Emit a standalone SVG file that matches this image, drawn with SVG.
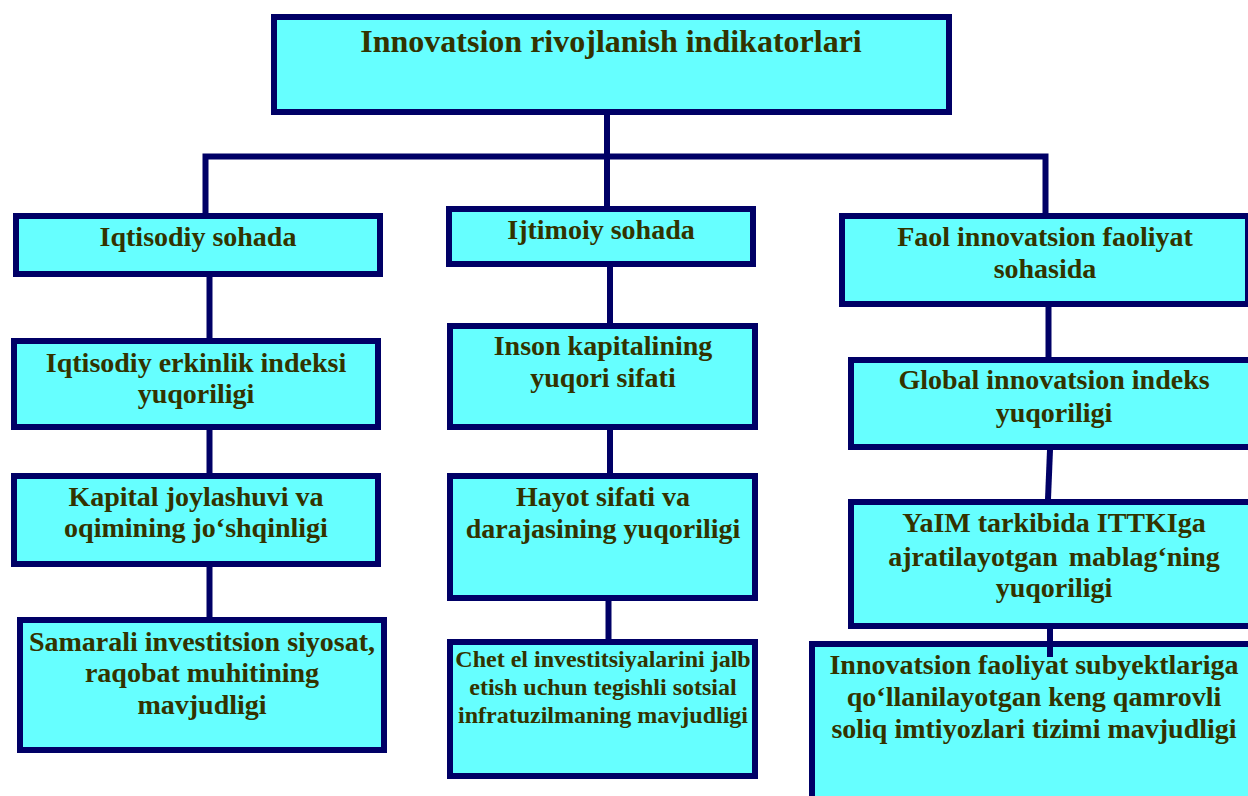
<svg xmlns="http://www.w3.org/2000/svg" width="1248" height="796" viewBox="0 0 1248 796">
<style>
.box{fill:#66FFFF;stroke:#000066;stroke-width:6}
.t{font-family:"Liberation Serif","Times New Roman",serif;font-weight:bold;font-size:28px;fill:#333300;text-anchor:middle}
.s{font-size:24px}
.title{font-size:32px}
.c{fill:none;stroke:#000066;stroke-width:6;stroke-linejoin:miter;stroke-linecap:butt}
</style>
<rect width="1248" height="796" fill="#ffffff"/>
<g id="root">
<rect class="box" x="274" y="17" width="675" height="95"/>
<text class="t title" x="611" y="52">Innovatsion rivojlanish indikatorlari</text>
</g>
<g id="iqtisodiy">
<rect class="box" x="16" y="216" width="364" height="58"/>
<text class="t" x="198" y="246">Iqtisodiy sohada</text>
</g>
<g id="erkinlik">
<rect class="box" x="14" y="341" width="364" height="86"/>
<text class="t" x="196" y="372">Iqtisodiy erkinlik indeksi</text>
<text class="t" x="196" y="403">yuqoriligi</text>
</g>
<g id="kapital">
<rect class="box" x="14" y="476" width="364" height="88"/>
<text class="t" x="196" y="506">Kapital joylashuvi va</text>
<text class="t" x="196" y="537">oqimining jo‘shqinligi</text>
</g>
<g id="samarali">
<rect class="box" x="20" y="620" width="364" height="130"/>
<text class="t" x="202" y="651">Samarali investitsion siyosat,</text>
<text class="t" x="202" y="682">raqobat muhitining</text>
<text class="t" x="202" y="714">mavjudligi</text>
</g>
<g id="ijtimoiy">
<rect class="box" x="449" y="209" width="304" height="55"/>
<text class="t" x="601" y="239">Ijtimoiy sohada</text>
</g>
<g id="inson">
<rect class="box" x="450" y="326" width="305" height="101"/>
<text class="t" x="603" y="355">Inson kapitalining</text>
<text class="t" x="603" y="387">yuqori sifati</text>
</g>
<g id="hayot">
<rect class="box" x="450" y="476" width="305" height="122"/>
<text class="t" x="603" y="506">Hayot sifati va</text>
<text class="t" x="603" y="538">darajasining yuqoriligi</text>
</g>
<g id="chetel">
<rect class="box" x="450" y="642" width="305" height="134"/>
<text class="t s" x="603" y="667">Chet el investitsiyalarini jalb</text>
<text class="t s" x="603" y="695">etish uchun tegishli sotsial</text>
<text class="t s" x="603" y="723">infratuzilmaning mavjudligi</text>
</g>
<g id="faol">
<rect class="box" x="842" y="216" width="406" height="88"/>
<text class="t" x="1045" y="246">Faol innovatsion faoliyat</text>
<text class="t" x="1045" y="278">sohasida</text>
</g>
<g id="global">
<rect class="box" x="851" y="360" width="406" height="87"/>
<text class="t" x="1054" y="389">Global innovatsion indeks</text>
<text class="t" x="1054" y="422">yuqoriligi</text>
</g>
<g id="yaim">
<rect class="box" x="851" y="502" width="406" height="124"/>
<text class="t" x="1054" y="532">YaIM tarkibida ITTKIga</text>
<text class="t" x="1054" y="566" word-spacing="4">ajratilayotgan mablag‘ning</text>
<text class="t" x="1054" y="597">yuqoriligi</text>
</g>
<g id="soliq">
<rect class="box" x="812" y="644" width="445" height="200"/>
<text class="t" x="1034" y="674">Innovatsion faoliyat subyektlariga</text>
<text class="t" x="1034" y="706">qo‘llanilayotgan keng qamrovli</text>
<text class="t" x="1034" y="738">soliq imtiyozlari tizimi mavjudligi</text>
</g>
<g id="connectors">
<path class="c" d="M607 115 V206"/>
<path class="c" d="M205.5 213 V156.5 H1045.5 V213"/>
<path class="c" d="M209.5 277 V338"/>
<path class="c" d="M209.5 430 V473"/>
<path class="c" d="M209.5 567 V617"/>
<path class="c" d="M610 267 V323"/>
<path class="c" d="M610 430 V473"/>
<path class="c" d="M608.5 601 V639"/>
<path class="c" d="M1048.5 307 V357"/>
<path class="c" d="M1050 450 L1048 499"/>
<path class="c" d="M1050 629 V657"/>
</g>
</svg>
